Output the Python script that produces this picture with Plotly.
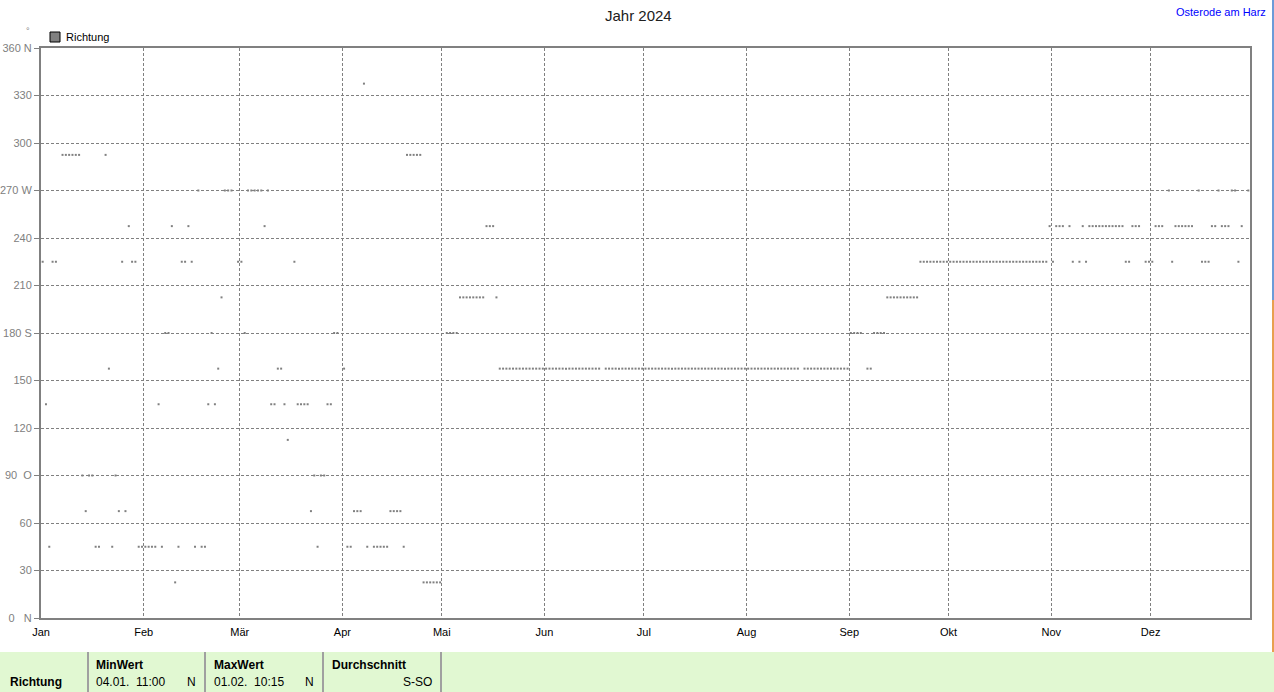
import datetime as dt
import plotly.graph_objects as go

# ---------------- data (daily wind direction in degrees, None = no value) ----------------
months_de = ["Jan", "Feb", "Mär", "Apr", "Mai", "Jun", "Jul", "Aug", "Sep", "Okt", "Nov", "Dez"]

jan = [225, 135, 45, 225, 225, None, 292.5, 292.5, 292.5, 292.5, 292.5, 292.5, 90, 67.5, 90, 90,
       45, 45, None, 292.5, 157.5, 45, 90, 67.5, 225, 67.5, 247.5, 225, 225, 45, 45]
feb = [45, 45, 45, 45, 135, 45, 180, 180, 247.5, 22.5, 45, 225, 225, 247.5, 225, 45, 270, 45, 45,
       135, 180, 135, 157.5, 202.5, 270, 270, 270, None, 225]
mar = [225, 180, 270, 270, 270, 270, 270, 247.5, 270, 135, 135, 157.5, 157.5, 135, 112.5, None, 225,
       135, 135, 135, 135, 67.5, 90, 45, 90, 90, 135, 135, 180, 180, None]
apr = [157.5, 45, 45, 67.5, 67.5, 67.5, 337.5, 45, None, 45, 45, 45, 45, 45, 67.5, 67.5, 67.5, 67.5,
       45, 292.5, 292.5, 292.5, 292.5, 292.5, 22.5, 22.5, 22.5, 22.5, 22.5, 22.5]
mai = [None, 180, 180, 180, 180, 202.5, 202.5, 202.5, 202.5, 202.5, 202.5, 202.5, 202.5, 247.5, 247.5,
       247.5, 202.5, 157.5, 157.5, 157.5, 157.5, 157.5, 157.5, 157.5, 157.5, 157.5, 157.5, 157.5, 157.5,
       157.5, 157.5]
jun = [157.5] * 17 + [None] + [157.5] * 12
jul = [157.5] * 31
aug = [157.5] * 16 + [None] + [157.5] * 14
sep = [180, 180, 180, 180, None, 157.5, 157.5, 180, 180, 180, 180, 202.5, 202.5, 202.5, 202.5, 202.5,
       202.5, 202.5, 202.5, 202.5, 202.5, 225, 225, 225, 225, 225, 225, 225, 225, 225]
okt = [225] * 30 + [247.5]
nov = [225, 247.5, 247.5, 247.5, None, 247.5, 225, None, 225, 247.5, 225, 247.5, 247.5, 247.5, 247.5,
       247.5, 247.5, 247.5, 247.5, 247.5, 247.5, 247.5, 225, 225, 247.5, 247.5, 247.5, None, 225, 225]
dez = [225, 247.5, 247.5, 247.5, None, 270, 225, 247.5, 247.5, 247.5, 247.5, 247.5, 247.5, None, 270,
       225, 225, 225, 247.5, 247.5, 270, 247.5, 247.5, 247.5, 270, 270, 225, 247.5, None, 270, None]

y_ticks = [0, 30, 60, 90, 120, 150, 180, 210, 240, 270, 300, 330, 360]
y_labels = ["0\u00a0\u00a0\u00a0N", "30", "60", "90\u00a0\u00a0O", "120", "150", "180 S", "210", "240",
            "270 W", "300", "330", "360 N"]

# ---------------- build series ----------------
all_months = [jan, feb, mar, apr, mai, jun, jul, aug, sep, okt, nov, dez]
xs, ys = [], []
for m, vals in enumerate(all_months, start=1):
    for i, v in enumerate(vals):
        if v is None:
            continue
        xs.append(dt.datetime(2024, m, i + 1, 12, 0))
        ys.append(v)

month_starts = [dt.datetime(2024, m, 1) for m in range(1, 13)]

# plot area in pixels
L, R, T, B = 41, 1250, 48, 618
W, H = R - L, B - T


def px(x):
    return (x - L) / W


def py(y):
    return (B - y) / H


GRAY = "#808080"
FONT = "Liberation Sans"

fig = go.Figure()
fig.add_trace(go.Scatter(
    x=xs, y=ys, mode="markers", name="Richtung",
    marker=dict(symbol="square", size=2, color=GRAY, line=dict(width=0)),
    showlegend=False, hoverinfo="x+y",
))

fig.update_layout(
    width=1274, height=692, autosize=False,
    margin=dict(l=L, r=1274 - R, t=T, b=692 - B, autoexpand=False),
    paper_bgcolor="white", plot_bgcolor="white",
    font=dict(family=FONT, size=11, color="black"),
    showlegend=False,
)

fig.update_xaxes(
    type="date", range=[dt.datetime(2024, 1, 1), dt.datetime(2024, 12, 31)],
    tickvals=month_starts, ticktext=months_de,
    showgrid=True, gridcolor=GRAY, gridwidth=1, griddash="3px,2px",
    showline=True, linecolor=GRAY, linewidth=2, mirror=True,
    ticks="outside", ticklen=3, tickcolor="rgba(0,0,0,0)",
    tickfont=dict(family=FONT, size=11, color="black"),
    zeroline=False, fixedrange=True, automargin=False,
)
fig.update_yaxes(
    range=[0, 360], tickvals=y_ticks, ticktext=y_labels,
    showgrid=True, gridcolor=GRAY, gridwidth=1, griddash="3px,2px",
    showline=True, linecolor=GRAY, linewidth=2, mirror=True,
    ticks="outside", ticklen=5, tickcolor=GRAY,
    tickfont=dict(family=FONT, size=11, color=GRAY),
    zeroline=False, fixedrange=True, automargin=False,
)

shapes = []
annots = []

# legend marker
shapes.append(dict(type="rect", xref="paper", yref="paper",
                   x0=px(50), x1=px(60), y0=py(42), y1=py(32),
                   fillcolor=GRAY, line=dict(color="black", width=1)))
annots.append(dict(text="Richtung", x=px(64), y=py(37), xref="paper", yref="paper",
                   xanchor="left", yanchor="middle", showarrow=False,
                   font=dict(family=FONT, size=11, color="black")))
# unit
annots.append(dict(text="°", x=px(28), y=py(31), xref="paper", yref="paper",
                   xanchor="center", yanchor="middle", showarrow=False,
                   font=dict(family=FONT, size=9, color=GRAY)))
# title
annots.append(dict(text="Jahr 2024", x=px(638), y=py(15), xref="paper", yref="paper",
                   xanchor="center", yanchor="middle", showarrow=False,
                   font=dict(family=FONT, size=15, color="#202020")))
annots.append(dict(text="Osterode am Harz", x=px(1268), y=py(12), xref="paper", yref="paper",
                   xanchor="right", yanchor="middle", showarrow=False,
                   font=dict(family=FONT, size=11, color="#0000FF")))

# thin window-edge strip at the right
shapes.append(dict(type="line", xref="paper", yref="paper",
                   x0=px(1273), x1=px(1273), y0=py(300), y1=py(0),
                   line=dict(color="#6C9BD8", width=2)))
shapes.append(dict(type="line", xref="paper", yref="paper",
                   x0=px(1273), x1=px(1273), y0=py(652), y1=py(300),
                   line=dict(color="#E8A050", width=2)))

# bottom statistics band
shapes.append(dict(type="rect", xref="paper", yref="paper", layer="below",
                   x0=px(0), x1=px(1274), y0=py(692), y1=py(652),
                   fillcolor="#E1F8D2", line=dict(width=0)))
for sx in [88, 205, 323, 441]:
    shapes.append(dict(type="line", xref="paper", yref="paper",
                       x0=px(sx), x1=px(sx), y0=py(692), y1=py(652),
                       line=dict(color="#A0A0A0", width=2)))


def txt(t, x, y, anchor="left", bold=False):
    annots.append(dict(text=f"<b>{t}</b>" if bold else t, x=px(x), y=py(y),
                       xref="paper", yref="paper", xanchor=anchor, yanchor="middle",
                       showarrow=False, font=dict(family=FONT, size=12, color="black")))


txt("Richtung", 8, 682, bold=True)
txt("MinWert", 94, 665, bold=True)
txt("04.01.\u00a0\u00a011:00", 94, 682)
txt("N", 198, 682, anchor="right")
txt("MaxWert", 212, 665, bold=True)
txt("01.02.\u00a0\u00a010:15", 212, 682)
txt("N", 316, 682, anchor="right")
txt("Durchschnitt", 330, 665, bold=True)
txt("S-SO", 434, 682, anchor="right")

fig.update_layout(shapes=shapes, annotations=annots)

fig.write_html("out.html", include_plotlyjs=True, config={"displayModeBar": False},
               post_script="document.body.style.margin='0';document.body.style.overflow='hidden';")
